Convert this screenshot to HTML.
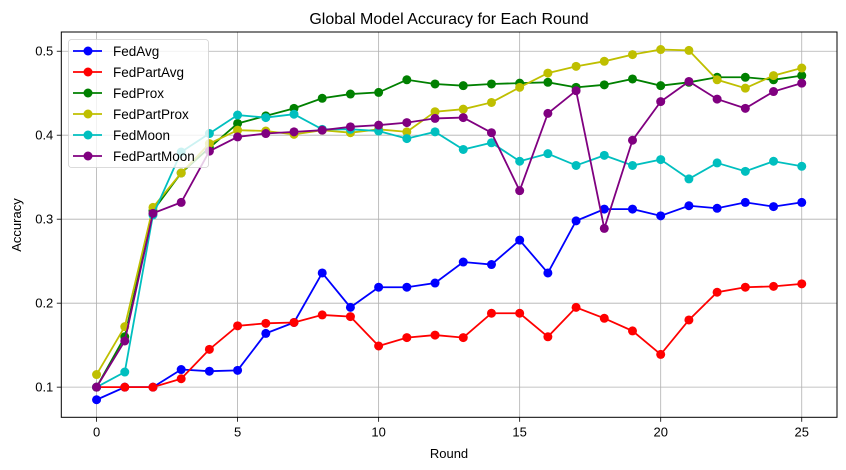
<!DOCTYPE html>
<html><head><meta charset="utf-8"><style>
body{margin:0;background:#fff}
svg{display:block;font-family:"Liberation Sans","DejaVu Sans",sans-serif}
</style></head><body>
<svg id="chart" width="846" height="470" xmlns="http://www.w3.org/2000/svg"></svg>
<script>
const rounds=[0,1,2,3,4,5,6,7,8,9,10,11,12,13,14,15,16,17,18,19,20,21,22,23,24,25];
const fedAvg=[0.085,0.100,0.100,0.121,0.119,0.120,0.164,0.177,0.236,0.195,0.219,0.219,0.224,0.249,0.246,0.275,0.236,0.298,0.312,0.312,0.304,0.316,0.313,0.320,0.315,0.320];
const fedPartAvg=[0.1,0.1,0.1,0.11,0.145,0.173,0.176,0.177,0.186,0.184,0.149,0.159,0.162,0.159,0.188,0.188,0.160,0.195,0.182,0.167,0.139,0.180,0.213,0.219,0.220,0.223];
const fedProx=[0.1,0.16,0.31,0.355,0.385,0.414,0.423,0.432,0.444,0.449,0.451,0.466,0.461,0.459,0.461,0.462,0.463,0.457,0.460,0.467,0.459,0.463,0.469,0.469,0.466,0.471];
const fedPartProx=[0.115,0.172,0.314,0.355,0.39,0.406,0.405,0.401,0.406,0.403,0.407,0.404,0.428,0.431,0.439,0.457,0.474,0.482,0.488,0.496,0.502,0.501,0.466,0.456,0.471,0.48];
const fedMoon=[0.1,0.118,0.305,0.380,0.402,0.424,0.421,0.425,0.407,0.407,0.405,0.396,0.404,0.383,0.391,0.369,0.378,0.364,0.376,0.364,0.371,0.348,0.367,0.357,0.369,0.363];
const fedPartMoon=[0.1,0.155,0.307,0.320,0.381,0.398,0.402,0.404,0.406,0.410,0.412,0.415,0.420,0.421,0.403,0.334,0.426,0.453,0.289,0.394,0.440,0.464,0.443,0.432,0.452,0.462];
const seriesNames=["FedAvg","FedPartAvg","FedProx","FedPartProx","FedMoon","FedPartMoon"];
const xTicks=[0,5,10,15,20,25];
const yTicks=[0.1,0.2,0.3,0.4,0.5];

const allSeries=[fedAvg,fedPartAvg,fedProx,fedPartProx,fedMoon,fedPartMoon];
const colors=["#0000ff","#ff0000","#008000","#bfbf00","#00bfbf","#800080"];
const L=61.3,R=837,T=32,B=417.3;
const xmin=-1.25,xmax=26.25,ymin=0.0641,ymax=0.5229;
const xs=v=>L+(v-xmin)/(xmax-xmin)*(R-L);
const ys=v=>B-(v-ymin)/(ymax-ymin)*(B-T);
const svg=document.getElementById('chart');
const NS="http://www.w3.org/2000/svg";
function mk(tag,attrs,parent){const e=document.createElementNS(NS,tag);for(const k in attrs)e.setAttribute(k,attrs[k]);(parent||svg).appendChild(e);return e;}

// grid + ticks
xTicks.forEach(t=>{
  const g=mk('line',{x1:xs(t),x2:xs(t),y1:T,y2:B,stroke:'#b0b0b0','stroke-width':0.8});
  
  
  mk('line',{x1:xs(t),x2:xs(t),y1:B,y2:B+4.5,stroke:'#000','stroke-width':0.8});
  const tx=mk('text',{x:xs(t),y:B+19,'text-anchor':'middle','font-size':13,fill:'#000'});
  tx.textContent=t;
  
  
});
yTicks.forEach(t=>{
  const g=mk('line',{x1:L,x2:R,y1:ys(t),y2:ys(t),stroke:'#b0b0b0','stroke-width':0.8});
  
  
  mk('line',{x1:L-4.5,x2:L,y1:ys(t),y2:ys(t),stroke:'#000','stroke-width':0.8});
  const tx=mk('text',{x:L-8,y:ys(t)+4.5,'text-anchor':'end','font-size':13,fill:'#000'});
  tx.textContent=t.toFixed(1);
  
  
});

// series
allSeries.forEach((data,si)=>{
  const g=mk('g',{});
  
  
  const pts=data.map((v,i)=>xs(rounds[i])+','+ys(v)).join(' ');
  const pl=mk('polyline',{points:pts,fill:'none',stroke:colors[si],'stroke-width':1.8},g);
  
  
  data.forEach((v,i)=>{
    const c=mk('circle',{cx:xs(rounds[i]),cy:ys(v),r:4.5,fill:colors[si]},g);
    
    
  });
});

// frame
const fr=mk('rect',{x:L,y:T,width:R-L,height:B-T,fill:'none',stroke:'#000','stroke-width':1});



// legend
const lg=mk('g',{});


mk('rect',{x:68.5,y:39.5,width:140,height:128,rx:3,fill:'#fff','fill-opacity':0.8,stroke:'#d0d0d0','stroke-width':0.8},lg);
seriesNames.forEach((n,i)=>{
  const y=51+i*21;
  const e=mk('g',{},lg);
  
  
  mk('line',{x1:73,x2:102,y1:y,y2:y,stroke:colors[i],'stroke-width':1.8},e);
  mk('circle',{cx:88,cy:y,r:4.5,fill:colors[i]},e);
  const t=mk('text',{x:113,y:y+5,'font-size':13.5,fill:'#000'},e);
  t.textContent=n;
});

// titles
const title=mk('text',{x:449,y:24,'text-anchor':'middle','font-size':16,fill:'#000'});
title.textContent='Global Model Accuracy for Each Round';


const xt=mk('text',{x:449,y:458,'text-anchor':'middle','font-size':13,fill:'#000'});
xt.textContent='Round';


const yt=mk('text',{x:0,y:0,'text-anchor':'middle','font-size':13,fill:'#000',transform:'translate(21,225) rotate(-90)'});
yt.textContent='Accuracy';


</script>
</body></html>
